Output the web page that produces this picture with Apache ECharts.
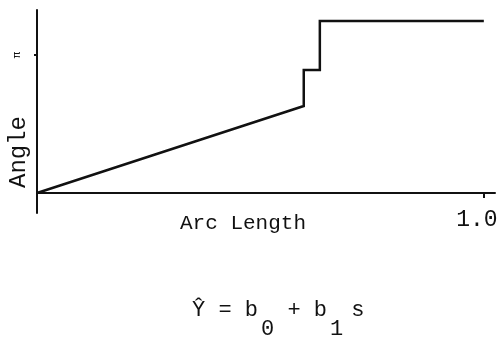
<!DOCTYPE html>
<html>
<head>
<meta charset="utf-8">
<style>
  html, body { margin: 0; padding: 0; background: #fff; }
  #chart { width: 503px; height: 341px; }
</style>
<script src="https://cdn.jsdelivr.net/npm/echarts@6/dist/echarts.min.js"></script>
</head>
<body>
<div id="chart"></div>
<script>
// Piecewise angle profile along normalised arc length (angle in radians)
const arcLength = [0, 0.597, 0.597, 0.633, 0.633, 1.0];
const angle = [0, 1.98, 2.80, 2.80, 3.915, 3.915];
const xTickValues = [1.0];
const xTickLabels = ['1.0'];
const yTickValues = [Math.PI];
const yTickLabels = ['π'];

const FONT = '"Liberation Mono", "DejaVu Sans Mono", monospace';
const INK = '#111';
const chart = echarts.init(document.getElementById('chart'), null, { renderer: 'canvas' });

chart.setOption({
  backgroundColor: '#ffffff',
  animation: false,
  grid: { left: 37, right: 8, top: 10, bottom: 128, containLabel: false, outerBoundsMode: 'none' },
  xAxis: {
    type: 'value',
    min: 0,
    max: 1.025,
    axisLine: { onZero: true, lineStyle: { color: INK, width: 2 } },
    axisTick: { show: true, customValues: xTickValues, length: 5, lineStyle: { color: INK, width: 2 } },
    axisLabel: {
      customValues: xTickValues,
      formatter: v => xTickLabels[xTickValues.indexOf(v)] || '',
      fontFamily: FONT, fontSize: 23, color: INK, margin: -5,
      padding: [0, 14, 0, 0]
    },
    splitLine: { show: false }
  },
  yAxis: {
    type: 'value',
    min: -0.455,
    max: 4.166,
    axisLine: { onZero: false, lineStyle: { color: INK, width: 2 } },
    axisTick: { show: true, customValues: yTickValues, length: 3, lineStyle: { color: INK, width: 2 } },
    axisLabel: {
      customValues: yTickValues,
      formatter: v => yTickLabels[0],
      rotate: 90,
      fontFamily: FONT, fontSize: 11, color: INK, margin: 14
    },
    splitLine: { show: false }
  },
  series: [{
    type: 'line',
    data: arcLength.map((s, i) => [s, angle[i]]),
    showSymbol: false,
    lineStyle: { color: INK, width: 2.5, join: 'miter' }
  }],
  graphic: [
    {
      // y-axis title, reading bottom to top
      type: 'text',
      x: 19,
      y: 152,
      rotation: Math.PI / 2,
      style: {
        text: 'Angle',
        fontFamily: FONT, fontSize: 24, fill: INK,
        align: 'center', verticalAlign: 'middle'
      }
    },
    {
      // x-axis title
      type: 'text',
      x: 243,
      y: 223,
      style: {
        text: 'Arc Length',
        fontFamily: FONT, fontSize: 21, fill: INK,
        align: 'center', verticalAlign: 'middle'
      }
    },
    {
      // fitted model
      type: 'text',
      left: 192,
      top: 299,
      style: {
        text: '{h| }{n|Ŷ = b}{s|0}{n| + b}{s|1}{t|s}',
        fill: INK,
        rich: {
          h: { fontFamily: FONT, fontSize: 1, lineHeight: 41, width: 0 },
          n: { fontFamily: FONT, fontSize: 22, lineHeight: 24, verticalAlign: 'top', fill: INK },
          t: { fontFamily: FONT, fontSize: 22, lineHeight: 24, verticalAlign: 'top', fill: INK, padding: [0, 0, 0, 8] },
          s: { fontFamily: FONT, fontSize: 22, lineHeight: 24, verticalAlign: 'bottom', fill: INK, padding: [0, 0, 0, 3] }
        }
      }
    }
  ]
});
</script>
</body>
</html>
